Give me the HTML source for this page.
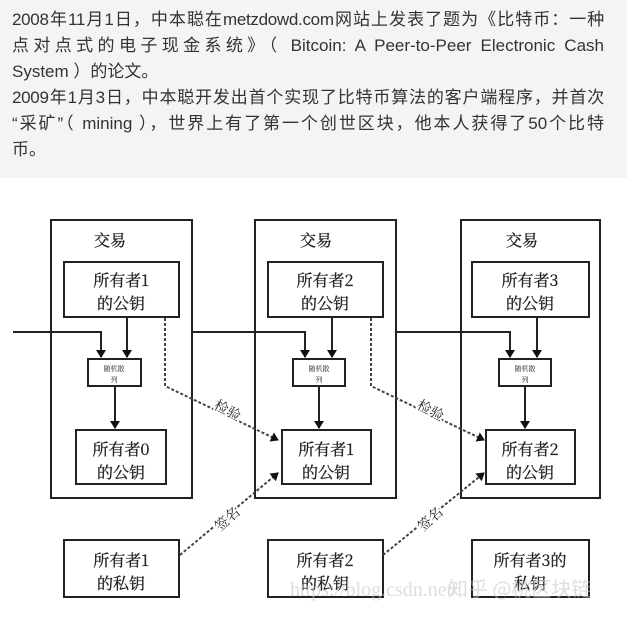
<!DOCTYPE html>
<html><head><meta charset="utf-8"><style>
body{margin:0;width:640px;height:618px;background:#fff;overflow:hidden;position:relative;font-family:"Liberation Sans","Noto Sans CJK SC",sans-serif}
.top{position:absolute;left:0;top:0;width:627px;height:178px;background:#f3f4f5}
.l{position:absolute;left:12px;width:592px;font-size:17px;line-height:26px;height:26px;color:#333;white-space:nowrap}
.j{text-align:justify;text-align-last:justify}
svg{position:absolute;left:0;top:0}
svg text{font-family:"Noto Serif CJK SC","Liberation Serif",serif;fill:#222}
</style></head><body>
<div class="top"></div>
<div class="l j" style="top:7px;letter-spacing:-0.3px">2008年11月1日，中本聪在metzdowd.com网站上发表了题为《比特币：一种</div>
<div class="l j" style="top:33px">点对点式的电子现金系统》（ Bitcoin: A Peer-to-Peer Electronic Cash</div>
<div class="l" style="top:59px">System ）的论文。</div>
<div class="l j" style="top:85px;letter-spacing:-0.3px">2009年1月3日，中本聪开发出首个实现了比特币算法的客户端程序，并首次</div>
<div class="l j" style="top:111px">“采矿”（ mining ），世界上有了第一个创世区块，他本人获得了50个比特</div>
<div class="l" style="top:137px">币。</div>
<svg width="640" height="618" viewBox="0 0 640 618">
<defs><marker id="a" markerWidth="8" markerHeight="10" refX="7" refY="5" orient="auto" markerUnits="userSpaceOnUse"><path d="M0,0 L8,5 L0,10z" fill="#111"/></marker></defs>
<g fill="none" stroke="#222" stroke-width="2">
<rect x="51" y="220" width="141" height="278"/>
<rect x="255" y="220" width="141" height="278"/>
<rect x="461" y="220" width="139" height="278"/>
<rect x="64" y="262" width="115" height="55"/>
<rect x="268" y="262" width="115" height="55"/>
<rect x="472" y="262" width="117" height="55"/>
<rect x="88" y="359" width="53" height="27"/>
<rect x="293" y="359" width="52" height="27"/>
<rect x="499" y="359" width="52" height="27"/>
<rect x="76" y="430" width="90" height="54"/>
<rect x="282" y="430" width="89" height="54"/>
<rect x="486" y="430" width="89" height="54"/>
<rect x="64" y="540" width="115" height="57"/>
<rect x="268" y="540" width="115" height="57"/>
<rect x="472" y="540" width="117" height="57"/>
<path d="M13,332 H101 V357" marker-end="url(#a)"/>
<path d="M192,332 H305 V357" marker-end="url(#a)"/>
<path d="M396,332 H510 V357" marker-end="url(#a)"/>
<path d="M127,317 V357" marker-end="url(#a)"/>
<path d="M332,317 V357" marker-end="url(#a)"/>
<path d="M537,317 V357" marker-end="url(#a)"/>
<path d="M115,386 V428" marker-end="url(#a)"/>
<path d="M319,386 V428" marker-end="url(#a)"/>
<path d="M525,386 V428" marker-end="url(#a)"/>
</g>
<g fill="none" stroke="#444" stroke-width="2" stroke-dasharray="3,2">
<path d="M165,318 V386 L278,440" marker-end="url(#a)"/>
<path d="M371,318 V386 L484,440" marker-end="url(#a)"/>
<path d="M180,555 L278,473" marker-end="url(#a)"/>
<path d="M383,555 L484,473" marker-end="url(#a)"/>
</g>
<g font-size="16" text-anchor="middle" stroke="#222" stroke-width="0.3">
<text x="110" y="246">交易</text><text x="316" y="246">交易</text><text x="522" y="246">交易</text>
<text x="121" y="286">所有者1</text><text x="121" y="309">的公钥</text>
<text x="325" y="286">所有者2</text><text x="325" y="309">的公钥</text>
<text x="530" y="286">所有者3</text><text x="530" y="309">的公钥</text>
<text x="121" y="455">所有者0</text><text x="121" y="478">的公钥</text>
<text x="326" y="455">所有者1</text><text x="326" y="478">的公钥</text>
<text x="530" y="455">所有者2</text><text x="530" y="478">的公钥</text>
<text x="121" y="566">所有者1</text><text x="121" y="589">的私钥</text>
<text x="325" y="566">所有者2</text><text x="325" y="589">的私钥</text>
<text x="530" y="566">所有者3的</text><text x="530" y="589">私钥</text>
</g>
<g font-size="7" text-anchor="middle">
<text x="114" y="371">随机散</text><text x="114" y="382">列</text>
<text x="319" y="371">随机散</text><text x="319" y="382">列</text>
<text x="525" y="371">随机散</text><text x="525" y="382">列</text>
</g>
<g font-size="14" stroke="#fff" stroke-width="4" paint-order="stroke">
<text transform="translate(213,408) rotate(28)">检验</text>
<text transform="translate(416,408) rotate(28)">检验</text>
<text transform="translate(220,532) rotate(-42)">签名</text>
<text transform="translate(423,532) rotate(-42)">签名</text>
</g>
<g font-size="20" opacity="0.6">
<text x="290" y="596" style="fill:#c8c8c8;font-family:'Liberation Serif',serif">https://blog.csdn.net/</text>
<text x="448" y="596" style="fill:#c8c8c8;font-family:'Noto Sans CJK SC',sans-serif">知乎 @桃区块链</text>
</g>
</svg>
</body></html>
